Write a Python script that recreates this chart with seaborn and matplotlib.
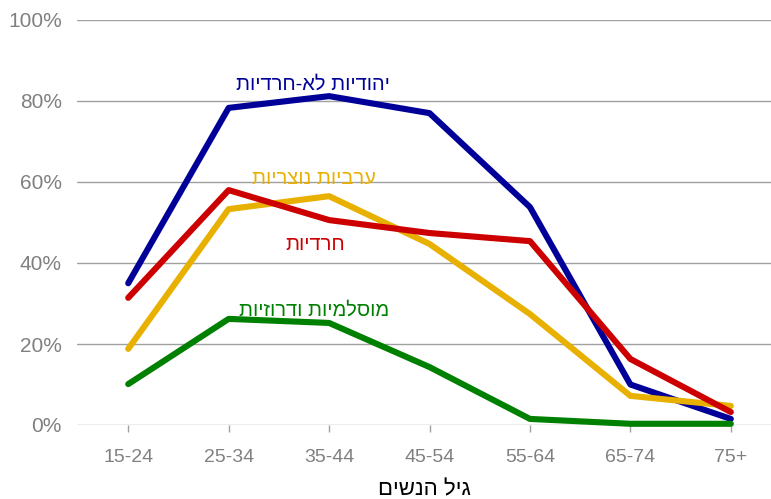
import numpy as np
import pandas as pd
import seaborn as sns
import matplotlib.pyplot as plt

age_groups = ['15-24', '25-34', '35-44', '45-54', '55-64', '65-74', '75+']
jewish_non_haredi = [35, 78.3, 81.2, 77, 53.8, 10, 1.5]
haredi = [31.4, 58, 50.6, 47.4, 45.4, 16.3, 3.2]
arab_christian = [18.8, 53.3, 56.5, 44.7, 27.4, 7.2, 4.7]
muslim_druze = [10.1, 26.2, 25.2, 14.3, 1.5, 0.3, 0.3]

series_names = ['יהודיות לא-חרדיות', 'ערביות נוצריות', 'חרדיות', 'מוסלמיות ודרוזיות']
series_values = [jewish_non_haredi, arab_christian, haredi, muslim_druze]
colors = ['#000099', '#e8b000', '#cc0000', '#008000']
x_label = 'גיל הנשים'

rows = []
for name, vals in zip(series_names, series_values):
    for i, v in enumerate(vals):
        rows.append({'pos': i, 'value': v, 'group': name})
df = pd.DataFrame(rows)

sns.set_style('white')
plt.rcParams['font.family'] = ['Liberation Sans', 'DejaVu Sans']

fig = plt.figure(figsize=(7.71, 4.99), dpi=100)
ax = fig.add_axes([77 / 771, 1 - 425 / 499, 1 - 77 / 771, 405 / 499])

# draw order: green, yellow, red, blue on top
order = [3, 1, 2, 0]
for k in order:
    sub = df[df['group'] == series_names[k]]
    sns.lineplot(data=sub, x='pos', y='value', color=colors[k], lw=4.4,
                 ax=ax, legend=False, clip_on=False, zorder=3 + k * 0.1)

ax.set_ylim(0, 100)
ax.set_xlim(-0.51, 6.4)
ax.set_yticks(np.arange(0, 101, 20))
ax.set_yticklabels([f'{v}%' for v in range(0, 101, 20)])
ax.set_xticks(range(len(age_groups)))
ax.set_xticklabels(age_groups)
ax.yaxis.grid(True, color='#a0a0a0', lw=1)
ax.set_axisbelow(True)
for s in ax.spines.values():
    s.set_visible(False)
ax.tick_params(axis='y', length=0, pad=11, labelsize=15, labelcolor='#808080')
ax.tick_params(axis='x', length=5, width=1, color='#a0a0a0', pad=12,
               labelsize=14, labelcolor='#808080', bottom=True)
ax.set_ylabel('')
ax.set_xlabel(x_label[::-1], fontsize=16, color='#000000', labelpad=10)

# series labels (reversed for right-to-left display)
label_pos = [(1.84, 84.3), (1.85, 60.8), (1.86, 44.5), (1.85, 28.3)]
for name, (lx, ly), c in zip(series_names, label_pos, colors):
    ax.text(lx, ly, name[::-1], color=c, fontsize=14.5, ha='center', va='center')

fig.savefig('out.png', dpi=100)
